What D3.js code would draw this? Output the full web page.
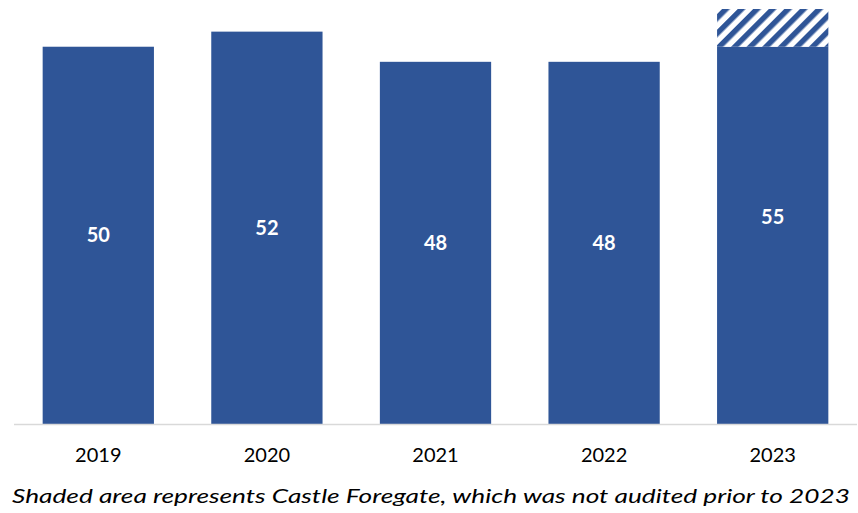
<!DOCTYPE html>
<html>
<head>
<meta charset="utf-8">
<script src="https://cdn.jsdelivr.net/npm/d3@7"></script>
<style>
  html, body { margin: 0; padding: 0; background: #fff; }
  svg { display: block; font-family: "Lato", "Open Sans", sans-serif; }
</style>
</head>
<body>
<svg id="chart" width="858" height="513"></svg>
<script>
// Yearly counts; the 2023 figure includes Castle Foregate as a separate stacked part
const years = ["2019", "2020", "2021", "2022", "2023"];
const auditedSites = [50, 52, 48, 48, 50];
const castleForegate = [0, 0, 0, 0, 5];
const caption = "Shaded area represents Castle Foregate, which was not audited prior to 2023";

const barColor = "#2F5597";
const svg = d3.select("#chart");

const rows = years.map((y, i) => ({ year: y, audited: auditedSites[i], castle: castleForegate[i] }));
const stack = d3.stack().keys(["audited", "castle"])(rows);

const x = d3.scaleBand().domain(years).range([14, 857]).paddingInner(0.34).paddingOuter(0.17);
const y = d3.scaleLinear().domain([0, 55]).range([424, 9]);

// diagonal hatch for the shaded part
const defs = svg.append("defs");
const pat = defs.append("pattern")
  .attr("id", "hatch")
  .attr("patternUnits", "userSpaceOnUse")
  .attr("width", 11).attr("height", 11)
  .attr("patternTransform", "rotate(45)");
pat.append("rect").attr("width", 11).attr("height", 11).attr("fill", "#fff");
pat.append("rect").attr("x", 0).attr("width", 5.5).attr("height", 11).attr("fill", barColor);

const fills = { audited: barColor, castle: "url(#hatch)" };

svg.append("g").selectAll("g")
  .data(stack)
  .join("g")
  .attr("fill", d => fills[d.key])
  .selectAll("rect")
  .data(d => d)
  .join("rect")
  .attr("x", d => x(d.data.year))
  .attr("width", x.bandwidth())
  .attr("y", d => y(d[1]))
  .attr("height", d => y(d[0]) - y(d[1]));

// baseline
svg.append("line")
  .attr("x1", 14).attr("x2", 857)
  .attr("y1", y(0) + 0.5).attr("y2", y(0) + 0.5)
  .attr("stroke", "#d9d9d9").attr("stroke-width", 1.5);

// total labels in the middle of each bar
const totals = rows.map(r => ({ year: r.year, total: r.audited + r.castle }));
svg.append("g").selectAll("text")
  .data(totals)
  .join("text")
  .attr("x", d => x(d.year) + x.bandwidth() / 2)
  .attr("y", d => (y(d.total) + y(0)) / 2 + 2)
  .attr("text-anchor", "middle")
  .attr("dominant-baseline", "middle")
  .attr("fill", "#fff")
  .attr("font-weight", "bold")
  .attr("font-size", 20)
  .text(d => d.total);

// category axis labels
const xAxis = d3.axisBottom(x).tickSize(0).tickPadding(0);
const gx = svg.append("g").attr("transform", `translate(0, ${y(0)})`).call(xAxis);
gx.select(".domain").remove();
gx.selectAll("text")
  .attr("y", 38)
  .attr("dy", 0)
  .attr("font-family", "Lato, 'Open Sans', sans-serif")
  .attr("font-size", 20)
  .attr("fill", "#000");

svg.append("text")
  .attr("x", 12)
  .attr("y", 503)
  .attr("font-style", "italic")
  .attr("font-size", 19)
  .attr("textLength", 838)
  .attr("lengthAdjust", "spacingAndGlyphs")
  .attr("fill", "#000")
  .text(caption);
</script>
</body>
</html>
